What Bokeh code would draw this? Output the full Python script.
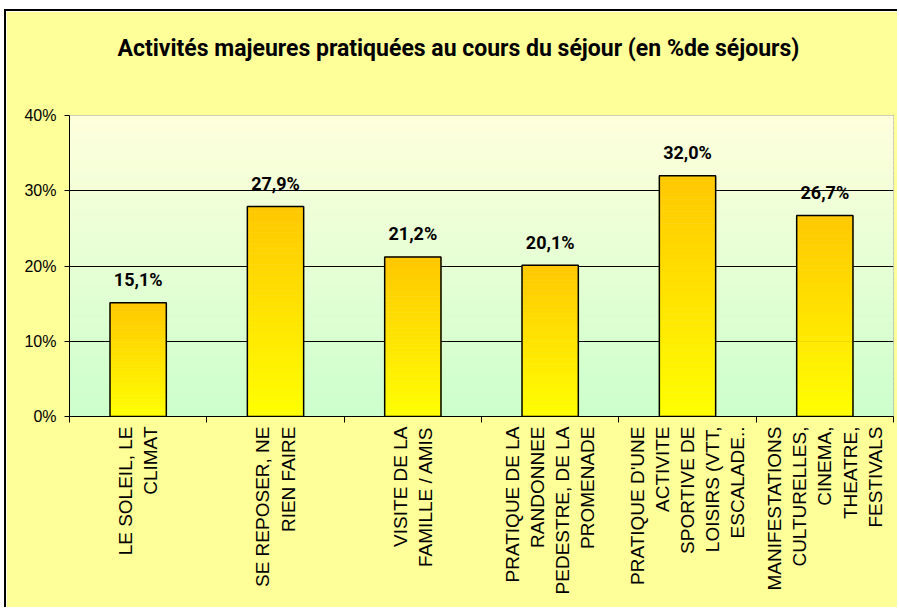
import numpy as np
from bokeh.plotting import figure
from bokeh.models import Range1d, FixedTicker, Title
from bokeh.core.properties import value
from bokeh.embed import file_html
from bokeh.resources import INLINE

# ---- data ----
categories = [
    "LE SOLEIL, LE\nCLIMAT",
    "SE REPOSER, NE\nRIEN FAIRE",
    "VISITE DE LA\nFAMILLE / AMIS",
    "PRATIQUE DE LA\nRANDONNEE\nPEDESTRE, DE LA\nPROMENADE",
    "PRATIQUE D'UNE\nACTIVITE\nSPORTIVE DE\nLOISIRS (VTT,\nESCALADE..",
    "MANIFESTATIONS\nCULTURELLES,\nCINEMA,\nTHEATRE,\nFESTIVALS",
]
values = [15.1, 27.9, 21.2, 20.1, 32.0, 26.7]
y_ticks = [0, 10, 20, 30, 40]
y_tick_labels = ["0%", "10%", "20%", "30%", "40%"]
title_text = "Activités majeures pratiquées au cours du séjour (en %de séjours)"

# ---- styles ----
BOLD_FONT = "Roboto"
SANS = "'Liberation Sans', Arial, sans-serif"
BAR_W = 0.41
N_BAR = 40
N_BG = 60


def hex_rgb(h):
    h = h.lstrip("#")
    return np.array([int(h[i:i + 2], 16) for i in (0, 2, 4)], dtype=float)


def lerp_hex(a, b, f):
    c = hex_rgb(a) + (hex_rgb(b) - hex_rgb(a)) * f
    return "#%02x%02x%02x" % tuple(int(round(x)) for x in c)


idx = list(range(len(values)))
y_min, y_max = y_ticks[0], y_ticks[-1]

p = figure(
    width=893, height=598,
    x_range=Range1d(-0.5, len(values) - 0.5),
    y_range=Range1d(y_min, y_max),
    output_backend="svg", toolbar_location=None,
    min_border_left=63, min_border_right=6,
    min_border_top=104, min_border_bottom=193,
    title=None,
)
p.styles = {
    "margin-left": "4px", "margin-top": "9px",
    "border-left": "2px solid black", "border-top": "2px solid black",
}
p.border_fill_color = "#FFFF99"
p.background_fill_color = "#FFFF99"
p.outline_line_color = "#808080"
p.outline_line_width = 1

# titles: spacer closest to the frame, real title above it
p.add_layout(Title(text=" ", text_font_size="10px", standoff=41), "above")
p.add_layout(Title(text=title_text, align="left", offset=48, standoff=0,
                   text_font=BOLD_FONT, text_font_size="23px",
                   text_font_style="bold", text_color="black"), "above")

# plot area gradient (bottom green -> top light yellow)
bg_b = [y_min + (y_max - y_min) * k / N_BG for k in range(N_BG)]
bg_t = [y_min + (y_max - y_min) * (k + 1) / N_BG for k in range(N_BG)]
bg_c = [lerp_hex("#CCFFCC", "#FFFFDC", (k + 0.5) / N_BG) for k in range(N_BG)]
bg = p.quad(left=-0.5, right=len(values) - 0.5, bottom=bg_b, top=bg_t,
            fill_color=bg_c, line_color=bg_c, line_width=1)
bg.level = "image"

# bars with vertical gradient (bottom yellow -> top orange)
ql, qr, qb, qt, qc = [], [], [], [], []
for i, v in zip(idx, values):
    for k in range(N_BAR):
        ql.append(i - BAR_W / 2)
        qr.append(i + BAR_W / 2)
        qb.append(v * k / N_BAR)
        qt.append(v * (k + 1) / N_BAR)
        qc.append(lerp_hex("#FFFF00", "#FFC800", (k + 0.5) / N_BAR))
p.quad(left=ql, right=qr, bottom=qb, top=qt, fill_color=qc, line_color=qc,
       line_width=0.6)
p.vbar(x=idx, top=values, width=BAR_W, fill_alpha=0,
       line_color="black", line_width=1.5)

# value labels
labels = [f"{v:.1f}%".replace(".", ",") for v in values]
p.text(x=idx, y=values, text=labels, text_align="center",
       text_baseline="alphabetic", y_offset=-23,
       text_font=value(BOLD_FONT), text_font_style="bold",
       text_font_size="18px", text_color="black")

# axes
p.xaxis.ticker = FixedTicker(ticks=idx, minor_ticks=[i - 0.5 for i in range(len(values) + 1)])
p.xaxis.major_label_overrides = {i: c for i, c in zip(idx, categories)}
p.xaxis.major_label_orientation = np.pi / 2
p.xaxis.major_label_text_align = "center"
p.xaxis.major_tick_out = 0
p.xaxis.major_tick_in = 0
p.xaxis.minor_tick_out = 6
p.xaxis.minor_tick_in = 0
p.xaxis.minor_tick_line_color = "black"
p.xaxis.axis_line_color = "black"
p.xaxis.major_label_standoff = 4
p.xaxis.major_label_text_font = SANS
p.xaxis.major_label_text_font_size = "19px"
p.xaxis.major_label_text_color = "black"

p.yaxis.ticker = FixedTicker(ticks=y_ticks, minor_ticks=[])
p.yaxis.major_label_overrides = {t: l for t, l in zip(y_ticks, y_tick_labels)}
p.yaxis.major_tick_out = 5
p.yaxis.major_tick_in = 0
p.yaxis.major_tick_line_color = "black"
p.yaxis.axis_line_color = "black"
p.yaxis.major_label_standoff = 8
p.yaxis.major_label_text_font = SANS
p.yaxis.major_label_text_font_size = "16px"
p.yaxis.major_label_text_color = "black"

p.xgrid.visible = False
p.ygrid.ticker = FixedTicker(ticks=y_ticks[1:-1])
p.ygrid.grid_line_color = "black"
p.ygrid.grid_line_width = 1

open("out.html", "w").write(file_html(p, INLINE))
